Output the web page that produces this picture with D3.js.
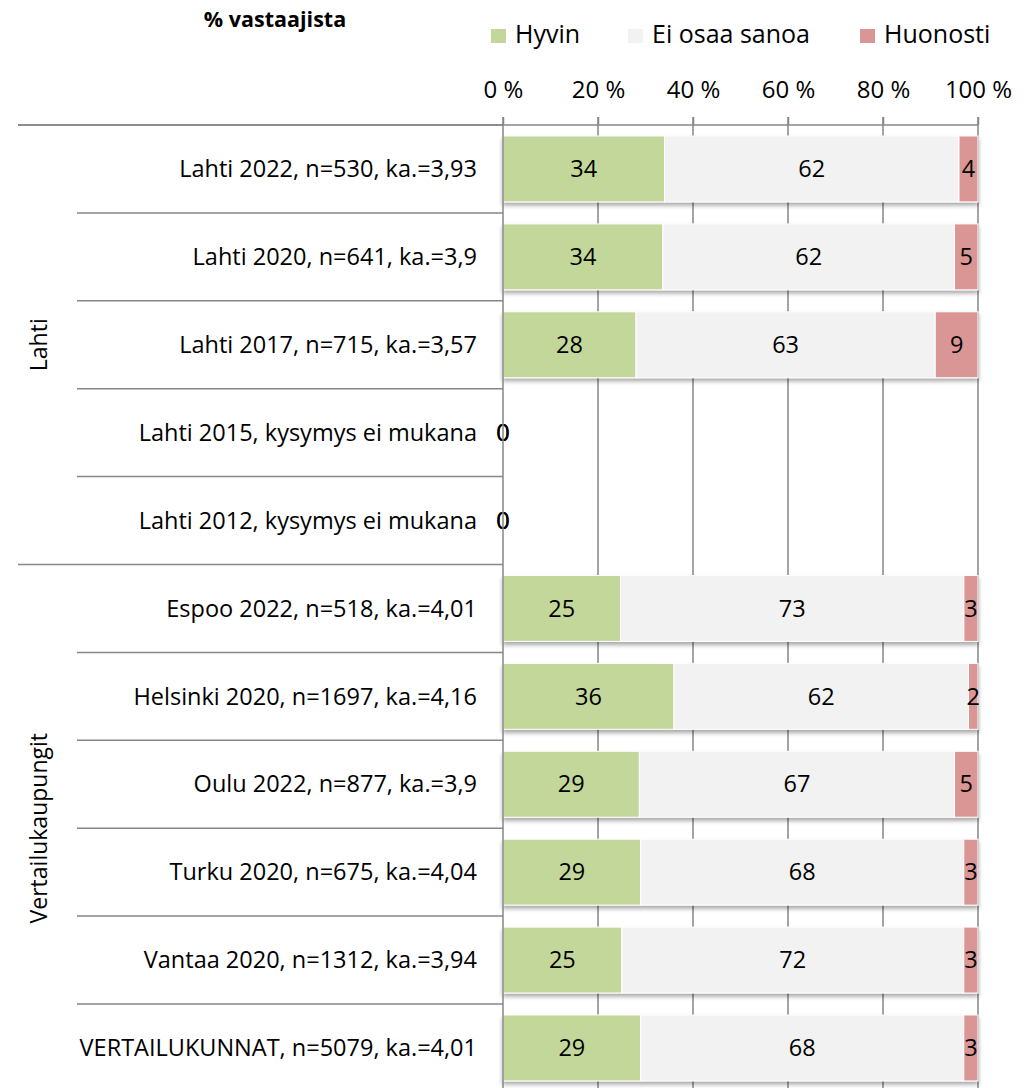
<!DOCTYPE html>
<html><head><meta charset="utf-8">
<script src="https://cdn.jsdelivr.net/npm/d3@7"></script>
<style>
html,body{margin:0;padding:0;background:#fff;}
text{font-family:"Open Sans","Noto Sans",sans-serif;fill:#000;}
</style></head>
<body><svg id="chart" width="1031" height="1088"></svg>
<script>
const categories = [
  "Lahti 2022, n=530, ka.=3,93",
  "Lahti 2020, n=641, ka.=3,9",
  "Lahti 2017, n=715, ka.=3,57",
  "Lahti 2015, kysymys ei mukana",
  "Lahti 2012, kysymys ei mukana",
  "Espoo 2022, n=518, ka.=4,01",
  "Helsinki 2020, n=1697, ka.=4,16",
  "Oulu 2022, n=877, ka.=3,9",
  "Turku 2020, n=675, ka.=4,04",
  "Vantaa 2020, n=1312, ka.=3,94",
  "VERTAILUKUNNAT, n=5079, ka.=4,01"
];
const seriesNames = ["Hyvin", "Ei osaa sanoa", "Huonosti"];
const hyvin      = [34, 34, 28, 0, 0, 25, 36, 29, 29, 25, 29];
const eiOsaa     = [62, 62, 63, 0, 0, 73, 62, 67, 68, 72, 68];
const huonosti   = [4, 5, 9, 0, 0, 3, 2, 5, 3, 3, 3];
const groups = [
  {name: "Lahti", from: 0, to: 5},
  {name: "Vertailukaupungit", from: 5, to: 11}
];
const tickValues = [0, 0.2, 0.4, 0.6, 0.8, 1];
const colors = ["#c4d79b", "#f2f2f2", "#da9694"];

const rows = categories.map((c, i) => ({cat: c, "Hyvin": hyvin[i], "Ei osaa sanoa": eiOsaa[i], "Huonosti": huonosti[i]}));
const stack = d3.stack().keys(seriesNames).offset(d3.stackOffsetExpand);
const stacked = stack(rows);

const svg = d3.select("#chart");
const x0 = 503, x1 = 978, yTop = 125, step = 87.9;
const x = d3.scaleLinear().domain([0, 1]).range([x0, x1]);
const y = d3.scaleBand().domain(categories).range([yTop, yTop + step * categories.length]).paddingInner(0.25).paddingOuter(0.125);
const yEnd = yTop + step * categories.length;
const lineCol = "#868686";

const defs = svg.append("defs");
const f = defs.append("filter").attr("id", "sh").attr("x", "-5%").attr("y", "-10%").attr("width", "110%").attr("height", "140%");
f.append("feDropShadow").attr("dx", 0).attr("dy", 3).attr("stdDeviation", 2).attr("flood-color", "#000").attr("flood-opacity", 0.35);

// gridlines
svg.append("g").selectAll("line").data(tickValues.slice(1)).join("line")
  .attr("x1", d => x(d)).attr("x2", d => x(d))
  .attr("y1", yTop - 8).attr("y2", yEnd)
  .attr("stroke", lineCol).attr("stroke-width", 1.5);

// category separators
const bounds = d3.range(categories.length + 1);
const groupBounds = new Set(groups.flatMap(g => [g.from, g.to]));
svg.append("g").selectAll("line").data(bounds).join("line")
  .attr("x1", d => groupBounds.has(d) ? 18 : 77).attr("x2", x0)
  .attr("y1", d => yTop + d * step).attr("y2", d => yTop + d * step)
  .attr("stroke", lineCol).attr("stroke-width", 1.5);

// bars
const barG = svg.append("g").attr("filter", "url(#sh)");
stacked.forEach((s, si) => {
  barG.append("g").selectAll("rect").data(s).join("rect")
    .attr("x", d => x(d[0])).attr("width", d => Math.max(0, x(d[1]) - x(d[0])))
    .attr("y", d => y(d.data.cat)).attr("height", y.bandwidth())
    .attr("fill", colors[si]).attr("stroke", "#fff").attr("stroke-width", 1);
});

// value labels
stacked.forEach((s, si) => {
  svg.append("g").selectAll("text").data(s).join("text")
    .attr("x", d => (x(d[0]) + x(d[1])) / 2)
    .attr("y", d => y(d.data.cat) + y.bandwidth() / 2)
    .attr("dy", "0.35em").attr("text-anchor", "middle")
    .attr("font-size", 23.5)
    .text(d => d.data[s.key]);
});

// top axis
const ax = svg.append("g").attr("transform", `translate(0,${yTop})`)
  .call(d3.axisTop(x).tickValues(tickValues).tickFormat(d => Math.round(d * 100) + " %").tickSizeInner(8).tickSizeOuter(0).tickPadding(19));
ax.select(".domain").remove();
ax.selectAll(".tick line").attr("stroke", lineCol).attr("stroke-width", 1.5);
ax.selectAll(".tick text").attr("font-size", 24).attr("font-family", '"Open Sans","Noto Sans",sans-serif').attr("fill", "#000");
svg.append("line").attr("x1", 18).attr("x2", x1).attr("y1", yTop).attr("y2", yTop).attr("stroke", lineCol).attr("stroke-width", 1.5);
// left axis line
svg.append("line").attr("x1", x0).attr("x2", x0).attr("y1", yTop - 8).attr("y2", yEnd).attr("stroke", lineCol).attr("stroke-width", 1.5);

// category labels
svg.append("g").selectAll("text").data(categories).join("text")
  .attr("x", x0 - 26).attr("y", d => y(d) + y.bandwidth() / 2).attr("dy", "0.35em")
  .attr("text-anchor", "end").attr("font-size", 23.5).text(d => d);

// group labels
svg.append("g").selectAll("text").data(groups).join("text")
  .attr("transform", g => `translate(47,${yTop + (g.from + g.to) / 2 * step}) rotate(-90)`)
  .attr("text-anchor", "middle").attr("font-size", 23).text(g => g.name);

// title
svg.append("text").attr("x", 275).attr("y", 27).attr("text-anchor", "middle")
  .attr("font-size", 21.5).attr("font-weight", "bold").text("% vastaajista");

// legend
const legendX = [491, 628, 860];
const lg = svg.append("g").selectAll("g").data(seriesNames).join("g")
  .attr("transform", (d, i) => `translate(${legendX[i]},0)`);
lg.append("rect").attr("x", 0).attr("y", 29).attr("width", 15).attr("height", 14).attr("fill", (d, i) => colors[i]);
lg.append("text").attr("x", 24).attr("y", 43).attr("font-size", 25).text(d => d);
</script></body></html>
